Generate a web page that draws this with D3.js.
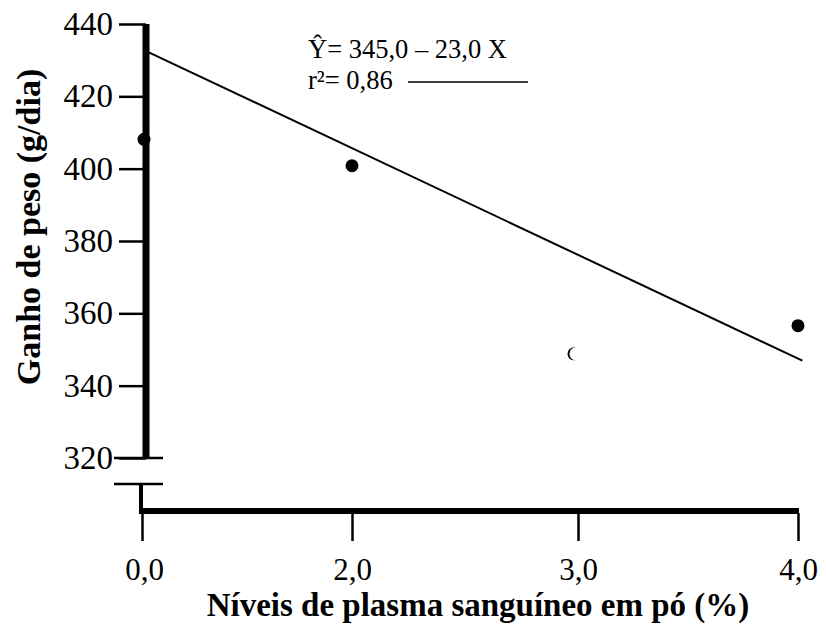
<!DOCTYPE html>
<html>
<head>
	<meta charset="utf-8">
	<title>Ganho de peso</title>
	<script src="https://cdn.jsdelivr.net/npm/d3@7/dist/d3.min.js"></script>
	<style>
		body { margin: 0; background: #fff; }
		svg text { font-family: "Liberation Serif", "Times New Roman", Times, serif; fill: #000; }
	</style>
</head>
<body>
	<script>

	// dados
	var levels = [0, 2, 3, 4];                       // níveis de plasma (%)
	var gain = [408.1, 400.8, 348.8, 356.6];         // ganho de peso (g/dia)
	var xTicks = [0, 2, 3, 4];
	var xTickLabels = ["0,0", "2,0", "3,0", "4,0"];
	var yTicks = [320, 340, 360, 380, 400, 420, 440];
	var fitX = [0, 4.02];                            // extremos da reta ajustada
	var fitY = [432.8, 346.9];

	var width = 826;
	var height = 624;

	var svg = d3.select("body")
		.append("svg")
		.attr("width", width)
		.attr("height", height);

	// eixo x não é uniforme na figura original
	var x = d3.scaleLinear()
		.domain([0, 2, 3, 4])
		.range([144, 352, 578, 798]);

	var y = d3.scaleLinear()
		.domain([320, 440])
		.range([458, 24]);

	var axisX = 146;     // posição do eixo y grosso
	var baseY = 511;     // posição do eixo x grosso

	// eixo y: marcas e rótulos
	var yAxis = d3.axisLeft(y)
		.tickValues(yTicks)
		.tickSize(27)
		.tickPadding(6)
		.tickFormat(d3.format("d"));
	var gy = svg.append("g")
		.attr("transform", "translate(" + axisX + ",0)")
		.call(yAxis)
		.attr("font-size", 33);
	gy.select(".domain").remove();
	gy.selectAll(".tick line").attr("stroke", "#000").attr("stroke-width", 2.5);
	gy.selectAll(".tick text").attr("fill", "#000");

	// linha grossa do eixo y
	svg.append("line")
		.attr("x1", axisX).attr("x2", axisX)
		.attr("y1", y(440)).attr("y2", y(320))
		.attr("stroke", "#000").attr("stroke-width", 7);

	// quebra do eixo
	svg.append("line")
		.attr("x1", 114).attr("x2", 163)
		.attr("y1", y(320)).attr("y2", y(320))
		.attr("stroke", "#000").attr("stroke-width", 2.5);
	svg.append("line")
		.attr("x1", 114).attr("x2", 163)
		.attr("y1", y(320) + 26).attr("y2", y(320) + 26)
		.attr("stroke", "#000").attr("stroke-width", 2.5);
	svg.append("line")
		.attr("x1", 141).attr("x2", 141)
		.attr("y1", y(320) + 26).attr("y2", baseY)
		.attr("stroke", "#000").attr("stroke-width", 4);

	// eixo x: marcas e rótulos
	var xAxis = d3.axisBottom(x)
		.tickValues(xTicks)
		.tickSize(28)
		.tickPadding(17)
		.tickFormat(function(d, i){ return xTickLabels[i]; });
	var gx = svg.append("g")
		.attr("transform", "translate(0," + (baseY + 2) + ")")
		.call(xAxis)
		.attr("font-size", 31);
	gx.select(".domain").remove();
	gx.selectAll(".tick line")
		.attr("transform", function(d){ return d === 0 ? "translate(-2,0)" : null; })
		.attr("stroke", "#000").attr("stroke-width", 2.5);
	gx.selectAll(".tick text").attr("fill", "#000");

	// linha grossa do eixo x
	svg.append("line")
		.attr("x1", 139).attr("x2", x(4) + 1)
		.attr("y1", baseY).attr("y2", baseY)
		.attr("stroke", "#000").attr("stroke-width", 6);

	// reta de regressão
	var line = d3.line()
		.x(function(d){ return x(d[0]); })
		.y(function(d){ return y(d[1]); });
	svg.append("path")
		.datum(d3.zip(fitX, fitY))
		.attr("d", line)
		.attr("fill", "none")
		.attr("stroke", "#000")
		.attr("stroke-width", 2);

	// pontos (o de 3,0 aparece em branco na figura, só uma borda fina)
	var pts = d3.zip(levels, gain);
	svg.selectAll("circle.pt")
		.data(pts)
		.enter()
		.append("circle")
		.attr("class", "pt")
		.attr("cx", function(d, i){ return x(d[0]) - (i === 2 ? 4 : 0); })
		.attr("cy", function(d){ return y(d[1]); })
		.attr("r", 6.5)
		.attr("fill", "#000");
	svg.append("circle")
		.attr("cx", x(levels[2]) - 2)
		.attr("cy", y(gain[2]))
		.attr("r", 6.6)
		.attr("fill", "#fff");

	// equação
	svg.append("text")
		.attr("x", 308).attr("y", 58)
		.attr("font-size", 26.5)
		.text("Ŷ= 345,0 – 23,0 X");
	svg.append("text")
		.attr("x", 308).attr("y", 89)
		.attr("font-size", 26.5)
		.text("r²= 0,86");
	svg.append("line")
		.attr("x1", 408).attr("x2", 528)
		.attr("y1", 82).attr("y2", 82)
		.attr("stroke", "#000").attr("stroke-width", 1.5);

	// títulos dos eixos
	svg.append("text")
		.attr("x", 478).attr("y", 616)
		.attr("text-anchor", "middle")
		.attr("font-size", 33)
		.attr("font-weight", "bold")
		.text("Níveis de plasma sanguíneo em pó (%)");
	svg.append("text")
		.attr("transform", "translate(40,227) rotate(-90)")
		.attr("text-anchor", "middle")
		.attr("font-size", 34)
		.attr("font-weight", "bold")
		.text("Ganho de peso (g/dia)");

	</script>
</body>
</html>
